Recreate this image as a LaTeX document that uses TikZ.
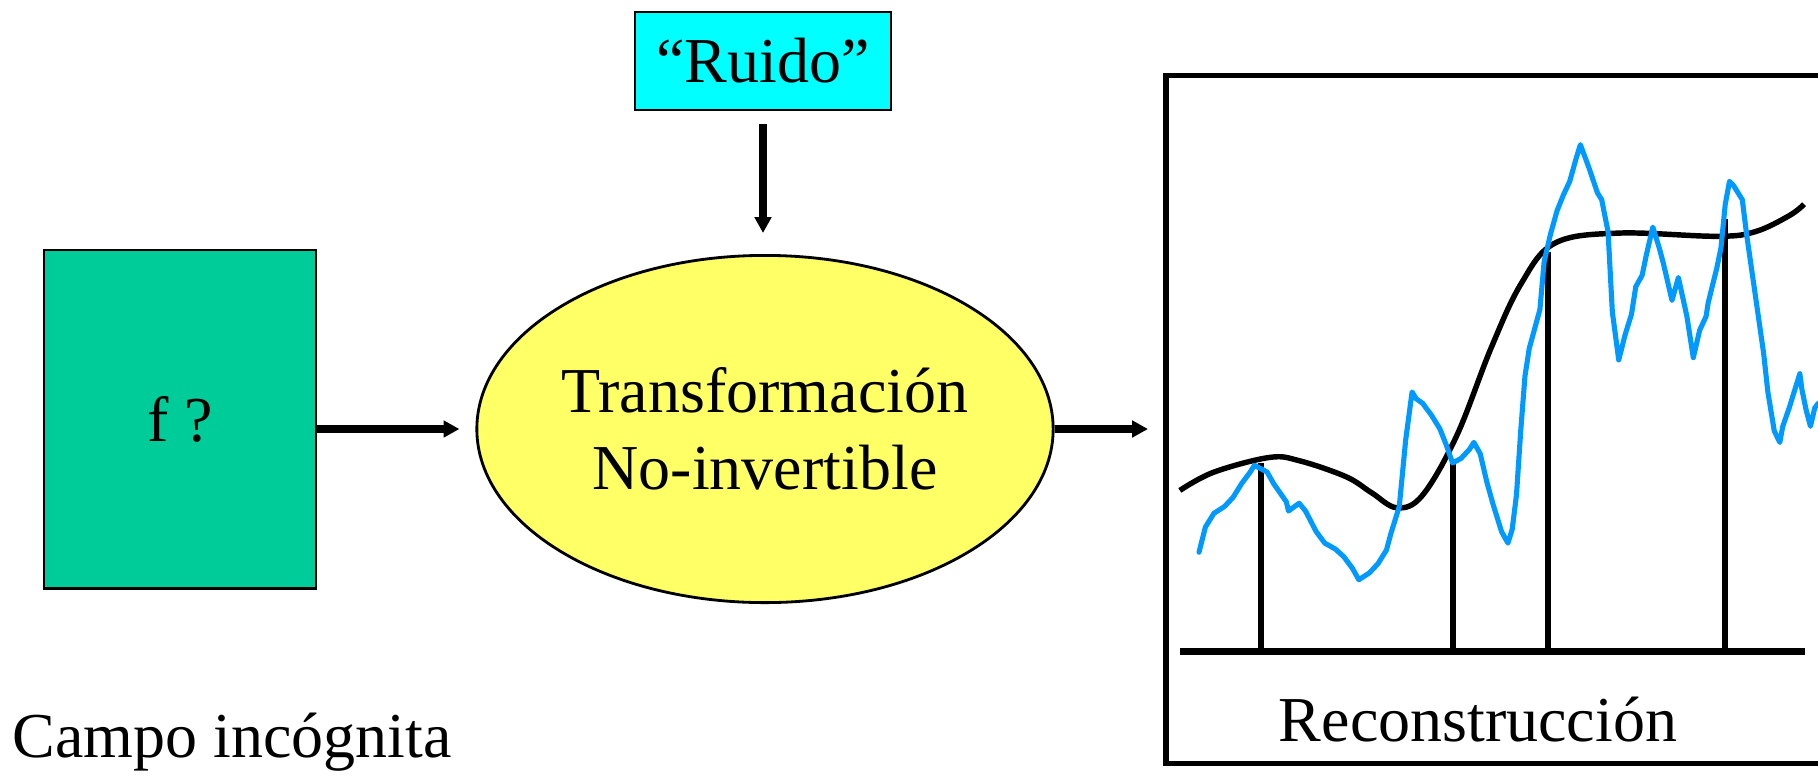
\documentclass[tikz,border=0pt]{standalone}
\usepackage{fontspec}
\setmainfont{Liberation Serif}
\usetikzlibrary{shapes.geometric,arrows.meta}
\definecolor{campoverde}{HTML}{00CC99}
\definecolor{ruidocian}{HTML}{00FFFF}
\definecolor{transfamarillo}{HTML}{FFFF66}
\definecolor{trazoazul}{HTML}{0099FF}
\begin{document}
\begin{tikzpicture}[x=0.01cm,y=-0.01cm,font=\fontsize{18.2}{21.8}\selectfont,
  flecha/.style={-{Triangle[length=4.5pt,width=4.6pt]},line width=2.05pt},
  caja/.style={draw,line width=0.8pt},
  eje/.style={line width=1.9pt},
  muestra/.style={line width=1.7pt},
  suave/.style={line width=1.55pt,line join=round},
  ruidosa/.style={trazoazul,line width=1.45pt,line join=round,line cap=round}]
\useasboundingbox (0,0) rectangle (1818,778);
% Campo incognita
\node[caja,fill=campoverde,minimum width=2.72cm,minimum height=3.38cm] (campo) at (180,419) {f ?};
\node[anchor=west,inner sep=0pt] (campotxt) at (12,742) {Campo incógnita};
% Transformacion y ruido
\node[caja,ellipse,fill=transfamarillo,minimum width=5.76cm,minimum height=3.47cm,inner sep=0pt,align=center] (transf) at (765,429) {Transformación\\No-invertible};
\node[caja,fill=ruidocian,minimum width=2.56cm,minimum height=0.98cm] (ruido) at (763,61) {“Ruido”};
\coordinate (salida) at (1148,429);
\draw[flecha,shorten >=0.16cm] (campo.east |- transf.west) -- (transf.west);
\draw[flecha] (transf.east) -- (salida);
\draw[flecha,shorten <=0.13cm,shorten >=0.21cm] (ruido.south) -- (ruido.south |- transf.north);
% Reconstruccion
\draw[line width=1.6pt] (1166,75.5) rectangle (1821,763.5);
\node (recontxt) at (1478,720) {Reconstrucción};
\begin{scope}[shift={(1150,60)},xscale=0.4261,yscale=0.4579]
\draw[eje] (70,1292) -- (1537,1292);
\foreach \xs/\ys in {260/880,710/878,935/420,1350/348}
  \draw[muestra] (\xs,1292) -- (\xs,\ys);
% campo verdadero
\draw[suave] plot[smooth,tension=0.6] coordinates {(70,940) (150,900) (280,868) (350,875) (460,910) (520,945) (580,978) (640,950) (720,820) (800,630) (870,490) (950,400) (1100,378) (1330,385) (1420,375) (1500,340) (1535,315)};
% estimacion ruidosa
\draw[ruidosa] plot coordinates {(115,1075) (130,1020) (150,990) (175,975) (195,955) (215,925) (235,900) (245,885) (275,900) (290,925) (305,945) (320,965) (325,985) (335,978) (350,968) (365,985) (390,1030) (410,1055) (435,1068) (455,1085) (475,1110) (490,1135) (515,1120) (535,1100) (555,1070) (565,1035) (585,975) (600,830) (615,725) (625,740) (640,750) (660,775) (680,805) (695,840) (710,880) (730,870) (750,850) (760,835) (775,860) (790,920) (805,970) (825,1030) (840,1055) (850,1025) (860,950) (870,810) (880,690) (890,630) (915,545) (925,440) (940,380) (955,330) (970,295) (985,265) (1000,215) (1010,185) (1030,235) (1050,290) (1060,305) (1075,375) (1085,550) (1100,655) (1115,600) (1130,555) (1140,495) (1155,470) (1165,425) (1180,365) (1195,410) (1205,445) (1225,525) (1240,475) (1260,560) (1275,650) (1290,590) (1305,560) (1310,530) (1330,455) (1340,410) (1350,315) (1360,265) (1370,275) (1390,305) (1400,380) (1420,510) (1440,640) (1450,725) (1465,810) (1478,835) (1485,800) (1500,760) (1520,700) (1525,685) (1530,720) (1540,765) (1550,800) (1560,760) (1568,750)};
\end{scope}
\end{tikzpicture}
\end{document}
